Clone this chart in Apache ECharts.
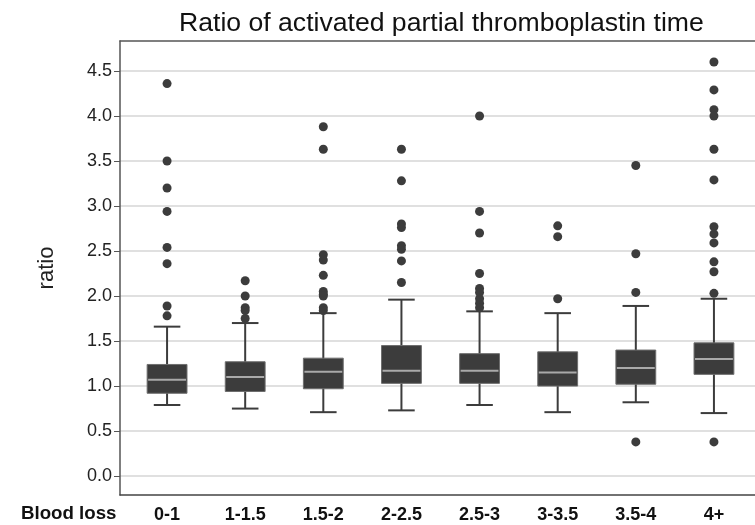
<!DOCTYPE html>
<html><head><meta charset="utf-8">
<script src="https://cdn.jsdelivr.net/npm/echarts@6/dist/echarts.min.js"></script>
<style>html,body{margin:0;padding:0;background:#fff}#c{width:755px;height:525px}</style>
</head><body><div id="c"></div>
<script>
const categories = ['0-1', '1-1.5', '1.5-2', '2-2.5', '2.5-3', '3-3.5', '3.5-4', '4+'];
const whiskerLow  = [0.79, 0.75, 0.71, 0.73, 0.79, 0.71, 0.82, 0.70];
const q1          = [0.92, 0.94, 0.97, 1.03, 1.03, 1.00, 1.02, 1.13];
const median      = [1.07, 1.10, 1.16, 1.17, 1.17, 1.15, 1.20, 1.30];
const q3          = [1.24, 1.27, 1.31, 1.45, 1.36, 1.38, 1.40, 1.48];
const whiskerHigh = [1.66, 1.70, 1.81, 1.96, 1.83, 1.81, 1.89, 1.97];
const outliers = [
  [4.36, 3.50, 3.20, 2.94, 2.54, 2.36, 1.89, 1.78],
  [2.17, 2.00, 1.87, 1.84, 1.75],
  [3.88, 3.63, 2.46, 2.40, 2.23, 2.05, 2.02, 2.00, 1.87, 1.84],
  [3.63, 3.28, 2.80, 2.76, 2.56, 2.52, 2.39, 2.15],
  [4.00, 2.94, 2.70, 2.25, 2.085, 2.04, 1.97, 1.92, 1.87],
  [2.78, 2.66, 1.97],
  [3.45, 2.47, 2.04, 0.38],
  [4.60, 4.29, 4.07, 4.00, 3.63, 3.29, 2.77, 2.69, 2.59, 2.38, 2.27, 2.03, 0.38]
];
const yTicks = [0, 0.5, 1.0, 1.5, 2.0, 2.5, 3.0, 3.5, 4.0, 4.5];

const FONT = 'Liberation Sans, Arial, sans-serif';
const DARK = '#3c3c3c';
const yMin = -0.21, yMax = 4.833;

const boxData = categories.map((c, i) => [i, whiskerLow[i], q1[i], median[i], q3[i], whiskerHigh[i]]);
const outlierData = [];
outliers.forEach((arr, i) => arr.forEach(v => outlierData.push([i, v])));

const chart = echarts.init(document.getElementById('c'), null, {renderer: 'canvas'});
chart.setOption({
  animation: false,
  backgroundColor: '#fff',
  title: {
    text: 'Ratio of activated partial thromboplastin time',
    left: 174, top: 5,
    textStyle: {fontFamily: FONT, fontSize: 26.6, fontWeight: 'normal', color: '#111'}
  },
  graphic: [{
    type: 'text', left: 21, top: 504,
    style: {text: 'Blood loss', font: 'bold 18.7px ' + FONT, fill: '#111'}
  }],
  grid: [
    {left: 120, right: 0, top: 41, bottom: 30},
    {left: 128, right: 2, top: 41, bottom: 30}
  ],
  xAxis: [
    {gridIndex: 0, type: 'value', min: 0, max: 1, position: 'bottom',
     axisLine: {show: true, onZero: false, lineStyle: {color: '#444', width: 1.5}},
     axisTick: {show: false}, axisLabel: {show: false}, splitLine: {show: false}},
    {gridIndex: 0, type: 'value', min: 0, max: 1, position: 'top',
     axisLine: {show: true, onZero: false, lineStyle: {color: '#555', width: 1.5}},
     axisTick: {show: false}, axisLabel: {show: false}, splitLine: {show: false}},
    {gridIndex: 1, type: 'category', data: categories, boundaryGap: true,
     axisLine: {show: false, onZero: false}, axisTick: {show: false}, splitLine: {show: false},
     axisLabel: {margin: 11, fontFamily: FONT, fontSize: 18, fontWeight: 'bold', color: '#111'}}
  ],
  yAxis: [
    {gridIndex: 0, type: 'value', min: yMin, max: yMax,
     name: 'ratio', nameLocation: 'middle', nameGap: 62,
     nameTextStyle: {fontFamily: FONT, fontSize: 22, color: '#222'},
     axisLine: {show: true, onZero: false, lineStyle: {color: '#555', width: 1.5}},
     axisTick: {show: true, length: 6, customValues: yTicks, lineStyle: {color: '#555', width: 1}},
     axisLabel: {customValues: yTicks, margin: 8, fontFamily: FONT, fontSize: 18, color: '#222',
                 formatter: v => Number(v).toFixed(1)},
     splitLine: {show: true, lineStyle: {color: '#d6d6d6', width: 1.5}}},
    {gridIndex: 1, type: 'value', min: yMin, max: yMax, show: false, splitLine: {show: false}}
  ],
  series: [
    {
      type: 'custom', xAxisIndex: 2, yAxisIndex: 1,
      data: boxData,
      encode: {x: 0, y: [1, 2, 3, 4, 5]},
      renderItem: function (params, api) {
        const x = api.value(0);
        const lo = api.coord([x, api.value(1)]);
        const b1 = api.coord([x, api.value(2)]);
        const md = api.coord([x, api.value(3)]);
        const b3 = api.coord([x, api.value(4)]);
        const hi = api.coord([x, api.value(5)]);
        const bw = api.size([1, 0])[0];
        const boxW = bw * 0.51, capW = bw * 0.34;
        const cx = lo[0];
        const ws = {stroke: DARK, lineWidth: 2};
        return {type: 'group', children: [
          {type: 'line', shape: {x1: cx, y1: hi[1], x2: cx, y2: lo[1]}, style: ws},
          {type: 'line', shape: {x1: cx - capW / 2, y1: hi[1], x2: cx + capW / 2, y2: hi[1]}, style: ws},
          {type: 'line', shape: {x1: cx - capW / 2, y1: lo[1], x2: cx + capW / 2, y2: lo[1]}, style: ws},
          {type: 'rect', shape: {x: cx - boxW / 2, y: b3[1], width: boxW, height: b1[1] - b3[1]},
           style: {fill: DARK, stroke: '#6e6e6e', lineWidth: 1}},
          {type: 'line', shape: {x1: cx - boxW / 2 + 1, y1: md[1], x2: cx + boxW / 2 - 1, y2: md[1]},
           style: {stroke: '#a9a9a9', lineWidth: 2}}
        ]};
      },
      z: 2
    },
    {
      type: 'scatter', xAxisIndex: 2, yAxisIndex: 1,
      data: outlierData, symbol: 'circle', symbolSize: 9,
      itemStyle: {color: DARK, opacity: 1}, clip: false, z: 3
    }
  ]
});
</script>
</body></html>
